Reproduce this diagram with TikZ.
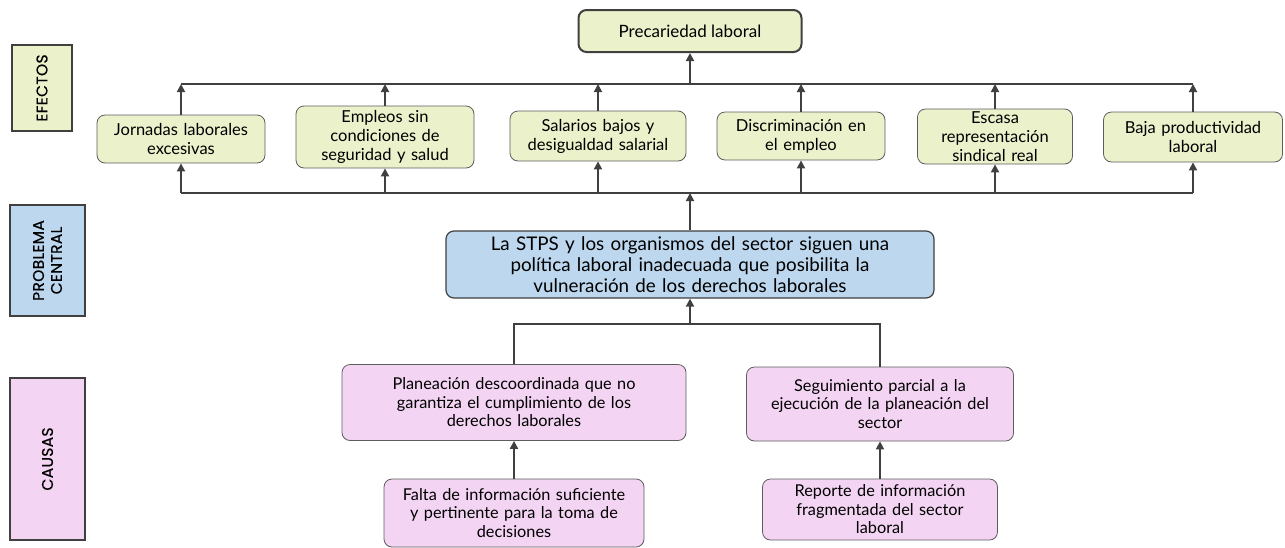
\documentclass[tikz,border=0pt]{standalone}
\usepackage{fontspec}
\setmainfont{Lato}
\newfontfamily\labfont[LetterSpace=2,FakeBold=0.5]{Poppins}
\usetikzlibrary{arrows.meta}
\definecolor{efill}{HTML}{EBF1CB}
\definecolor{pfill}{HTML}{BDD7EE}
\definecolor{cfill}{HTML}{F3D4F2}
\definecolor{lc}{HTML}{404040}
\begin{document}
\begin{tikzpicture}[x=1pt,y=-1pt,
  box/.style={draw=lc!85, line width=0.8pt, rounded corners=8pt, align=center, inner sep=0pt,
    font=\fontsize{16.5}{19}\selectfont},
  effect/.style={box, fill=efill},
  cause/.style={box, fill=cfill, font=\fontsize{16.3}{18.5}\selectfont},
  lab/.style={draw=lc, line width=1.2pt, rotate=90, align=center, inner sep=0pt,
    font=\labfont\fontsize{15.5}{18}\selectfont},
  conn/.style={draw=lc, line width=1.8pt},
  arr/.style={conn, -{Triangle[length=8pt,width=8pt]}}]
\useasboundingbox (0,0) rectangle (1285,547);
% side labels
\node[lab, fill=efill, minimum width=86pt, minimum height=60pt] (lef) at (42,88) {EFECTOS};
\node[lab, fill=pfill, minimum width=111pt, minimum height=75pt] (lpc) at (47.5,260.5) {PROBLEMA\\CENTRAL};
\node[lab, fill=cfill, minimum width=162pt, minimum height=75pt] (lca) at (47.5,459) {CAUSAS};
% top
\node[box, fill=efill, draw=lc, line width=2pt, minimum width=223pt, minimum height=42pt,
  font=\fontsize{17}{20}\selectfont] (top) at (690,31) {Precariedad laboral};
% effects
\node[effect, minimum width=168pt, minimum height=48pt, text width=166pt] (e1) at (181,139) {Jornadas laborales\\excesivas};
\node[effect, minimum width=178pt, minimum height=62pt, text width=176pt] (e2) at (385,137) {Empleos sin\\condiciones de\\seguridad y salud};
\node[effect, minimum width=176pt, minimum height=50pt, text width=174pt] (e3) at (598,136) {Salarios bajos y\\desigualdad salarial};
\node[effect, minimum width=168pt, minimum height=48pt, text width=166pt] (e4) at (801,136) {Discriminación en\\el empleo};
\node[effect, minimum width=155pt, minimum height=55pt, text width=153pt] (e5) at (995,136.5) {Escasa\\representación\\sindical real};
\node[effect, minimum width=179pt, minimum height=50pt, text width=177pt] (e6) at (1193,137) {Baja productividad\\laboral};
% central
\node[box, fill=pfill, draw=lc, line width=1.2pt, minimum width=488pt, minimum height=67pt, text width=486pt,
  font=\fontsize{18.8}{20.8}\selectfont] (cen) at (690,264.5) {La STPS y los organismos del sector siguen una\\política laboral inadecuada que posibilita la\\vulneración de los derechos laborales};
% causes
\node[cause, minimum width=344pt, minimum height=76pt, text width=342pt] (c1) at (514,402.5) {Planeación descoordinada que no\\garantiza el cumplimiento de los\\derechos laborales};
\node[cause, minimum width=267pt, minimum height=74pt, text width=265pt] (c2) at (880,404) {Seguimiento parcial a la\\ejecución de la planeación del\\sector};
\node[cause, minimum width=260pt, minimum height=68pt, text width=258pt] (s1) at (514,513) {Falta de información suficiente\\y pertinente para la toma de\\decisiones};
\node[cause, minimum width=235pt, minimum height=61pt, text width=233pt] (s2) at (880,509.5) {Reporte de información\\fragmentada del sector\\laboral};
% buses
\coordinate (tbus) at (0,84);
\coordinate (bbus) at (0,193);
\coordinate (cbus) at (0,324);
\draw[conn] (e1.north |- tbus) -- (e6.north |- tbus);
\draw[arr] (top.south |- tbus) -- (top.south);
\foreach \n in {e1,e2,e3,e4,e5,e6}{
  \draw[arr] (\n.north) -- (\n.north |- tbus);
  \draw[arr] (\n.south |- bbus) -- (\n.south);
}
\draw[conn] (e1.south |- bbus) -- (e6.south |- bbus);
\draw[arr] (cen.north) -- (cen.north |- bbus);
\draw[conn] (c1.north) -- (c1.north |- cbus) -- (c2.north |- cbus) -- (c2.north);
\draw[arr] (cen.south |- cbus) -- (cen.south);
\draw[arr] (s1.north) -- (c1.south);
\draw[arr] (s2.north) -- (c2.south);
\end{tikzpicture}
\end{document}
